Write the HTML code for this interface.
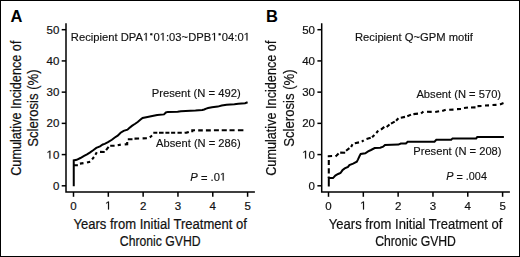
<!DOCTYPE html>
<html><head><meta charset="utf-8"><style>
html,body{margin:0;padding:0;background:#fff;width:520px;height:257px;overflow:hidden}
svg{display:block;filter:blur(0.3px)}
text{font-family:"Liberation Sans",sans-serif;fill:#111}
.pl{font-size:16.5px;font-weight:bold;fill:#000}
.tl{font-size:11.5px;stroke:#111;stroke-width:0.2px}
.tt{font-size:15.2px;stroke:#111;stroke-width:0.22px}
.il{font-size:11.2px;stroke:#111;stroke-width:0.15px}
.h{fill-opacity:0;stroke-opacity:0}
.ax{fill:none;stroke:#000;stroke-width:1.5}
.cs{fill:none;stroke:#000;stroke-width:2.0;stroke-linejoin:miter}
.cd{fill:none;stroke:#000;stroke-width:2.1;stroke-linejoin:miter}
</style></head><body>
<svg width="520" height="257" viewBox="0 0 520 257">
<rect x="0.5" y="0.5" width="519" height="256" fill="#fff" stroke="#000" stroke-width="1"/>
<text x="10.5" y="22.4" class="pl">A</text>
<text x="265.9" y="22.4" class="pl">B</text>
<path d="M66.00 23.3V192.0H254.90" class="ax"/>
<path d="M61.70 185.80H66.00" class="ax"/>
<text x="59.30" y="189.80" class="tl" text-anchor="end">0</text>
<path d="M61.70 154.58H66.00" class="ax"/>
<text x="59.30" y="158.58" class="tl" text-anchor="end"><tspan class="h">1</tspan>0</text>
<path d="M61.70 123.36H66.00" class="ax"/>
<text x="59.30" y="127.36" class="tl" text-anchor="end">20</text>
<path d="M61.70 92.14H66.00" class="ax"/>
<text x="59.30" y="96.14" class="tl" text-anchor="end">30</text>
<path d="M61.70 60.92H66.00" class="ax"/>
<text x="59.30" y="64.92" class="tl" text-anchor="end">40</text>
<path d="M61.70 29.70H66.00" class="ax"/>
<text x="59.30" y="33.70" class="tl" text-anchor="end">50</text>
<path d="M73.50 192.0V196.8" class="ax"/>
<text x="73.50" y="209.5" class="tl" text-anchor="middle">0</text>
<path d="M108.32 192.0V196.8" class="ax"/>
<text x="108.32" y="209.5" class="tl" text-anchor="middle"><tspan class="h">1</tspan></text>
<path d="M143.14 192.0V196.8" class="ax"/>
<text x="143.14" y="209.5" class="tl" text-anchor="middle">2</text>
<path d="M177.96 192.0V196.8" class="ax"/>
<text x="177.96" y="209.5" class="tl" text-anchor="middle">3</text>
<path d="M212.78 192.0V196.8" class="ax"/>
<text x="212.78" y="209.5" class="tl" text-anchor="middle">4</text>
<path d="M247.60 192.0V196.8" class="ax"/>
<text x="247.60" y="209.5" class="tl" text-anchor="middle">5</text>
<text x="160.25" y="228.6" class="tt" text-anchor="middle" textLength="173.5" lengthAdjust="spacingAndGlyphs">Years from Initial Treatment of</text>
<text x="160.25" y="245.8" class="tt" text-anchor="middle" textLength="80.8" lengthAdjust="spacingAndGlyphs">Chronic GVHD</text>
<text transform="translate(20.60 108.2) rotate(-90)" class="tt" text-anchor="middle" textLength="135.2" lengthAdjust="spacingAndGlyphs">Cumulative Incidence of</text>
<text transform="translate(38.40 108.1) rotate(-90)" class="tt" text-anchor="middle" textLength="77.4" lengthAdjust="spacingAndGlyphs">Sclerosis (%)</text>
<path d="M321.70 23.3V192.0H509.90" class="ax"/>
<path d="M317.40 185.80H321.70" class="ax"/>
<text x="315.00" y="189.80" class="tl" text-anchor="end">0</text>
<path d="M317.40 154.58H321.70" class="ax"/>
<text x="315.00" y="158.58" class="tl" text-anchor="end"><tspan class="h">1</tspan>0</text>
<path d="M317.40 123.36H321.70" class="ax"/>
<text x="315.00" y="127.36" class="tl" text-anchor="end">20</text>
<path d="M317.40 92.14H321.70" class="ax"/>
<text x="315.00" y="96.14" class="tl" text-anchor="end">30</text>
<path d="M317.40 60.92H321.70" class="ax"/>
<text x="315.00" y="64.92" class="tl" text-anchor="end">40</text>
<path d="M317.40 29.70H321.70" class="ax"/>
<text x="315.00" y="33.70" class="tl" text-anchor="end">50</text>
<path d="M328.50 192.0V196.8" class="ax"/>
<text x="328.50" y="209.5" class="tl" text-anchor="middle">0</text>
<path d="M363.32 192.0V196.8" class="ax"/>
<text x="363.32" y="209.5" class="tl" text-anchor="middle"><tspan class="h">1</tspan></text>
<path d="M398.14 192.0V196.8" class="ax"/>
<text x="398.14" y="209.5" class="tl" text-anchor="middle">2</text>
<path d="M432.96 192.0V196.8" class="ax"/>
<text x="432.96" y="209.5" class="tl" text-anchor="middle">3</text>
<path d="M467.78 192.0V196.8" class="ax"/>
<text x="467.78" y="209.5" class="tl" text-anchor="middle">4</text>
<path d="M502.60 192.0V196.8" class="ax"/>
<text x="502.60" y="209.5" class="tl" text-anchor="middle">5</text>
<text x="415.55" y="228.6" class="tt" text-anchor="middle" textLength="173.5" lengthAdjust="spacingAndGlyphs">Years from Initial Treatment of</text>
<text x="415.55" y="245.8" class="tt" text-anchor="middle" textLength="80.8" lengthAdjust="spacingAndGlyphs">Chronic GVHD</text>
<text transform="translate(275.90 108.2) rotate(-90)" class="tt" text-anchor="middle" textLength="135.2" lengthAdjust="spacingAndGlyphs">Cumulative Incidence of</text>
<text transform="translate(293.70 108.1) rotate(-90)" class="tt" text-anchor="middle" textLength="77.4" lengthAdjust="spacingAndGlyphs">Sclerosis (%)</text>
<polyline points="73.75,186.20 73.75,160.40 76.70,159.80 80.40,158.00 84.10,155.90 87.00,154.40 89.80,152.60 93.50,150.00 96.30,147.90 100.00,146.40 102.80,144.50 104.70,143.90 108.00,142.20 111.90,139.80 114.80,137.50 117.70,135.60 120.60,132.70 123.60,130.80 127.50,129.70 129.00,128.30 131.90,125.90 134.80,124.00 137.70,122.00 140.60,119.60 142.60,118.00 147.50,117.00 152.30,116.00 157.20,115.00 164.00,114.40 165.90,112.50 167.90,111.90 177.60,111.70 180.90,111.30 185.70,110.90 195.50,110.50 202.30,110.00 204.20,109.50 206.20,108.60 208.10,108.00 212.00,107.20 217.80,106.60 221.70,105.60 226.60,104.80 234.40,104.20 238.30,103.70 245.10,103.20 247.60,102.20" class="cs"/>
<path d="M73.75 165.20 L77.90 165.20M79.90 163.60 L83.50 163.10M87.00 162.60 L90.20 161.70M92.10 159.40 L94.00 157.00M95.40 154.70 L96.80 152.30M100.00 151.90 L104.70 152.00M106.10 150.20 L108.60 146.90M110.20 145.80 L114.60 145.70M117.70 145.20 L120.80 144.60M124.70 144.40 L127.20 144.20 L127.20 142.10M127.80 139.30 L132.50 139.30M134.50 138.60 L139.10 138.50M142.60 138.40 L146.90 138.30M149.80 137.30 L152.10 135.50M153.30 132.80 L157.30 132.80M159.00 132.70 L163.60 132.70M165.40 132.70 L169.40 132.70M171.10 132.70 L175.20 132.70M177.50 132.80 L181.80 132.80M184.60 132.80 L186.50 132.60 L188.80 131.90M192.30 132.30 L192.30 130.30 L195.00 130.30M198.20 130.40 L202.80 130.40M205.90 130.40 L210.80 130.40M213.90 130.30 L218.90 130.30M221.70 130.30 L226.80 130.30M229.50 130.30 L234.60 130.30M237.90 130.30 L243.40 130.30" class="cd"/>
<polyline points="328.80,186.50 328.80,178.10 333.00,178.10 335.30,175.60 338.10,174.00 340.50,173.00 342.40,170.30 344.70,168.40 348.00,166.90 349.40,165.10 353.10,163.60 356.80,161.70 357.90,159.60 359.70,155.80 360.70,153.90 365.30,153.30 368.10,151.40 371.00,150.00 374.70,148.10 380.30,147.70 383.10,146.70 385.00,144.90 398.50,144.60 400.80,143.50 405.90,143.50 407.70,141.70 434.50,141.70 436.30,139.80 451.20,139.80 452.60,138.40 476.20,138.40 477.30,136.90 503.90,136.90" class="cs"/>
<path d="M328.80 159.90 L328.80 165.10M328.80 168.30 L328.80 173.50M328.80 176.50 L328.80 178.00M328.80 157.20 L328.80 156.20 L332.10 156.00M335.50 156.30 L336.60 155.50 L338.60 153.50M340.20 152.60 L345.20 152.80M346.10 150.70 L349.40 148.10M351.10 147.00 L352.50 144.20M354.80 143.30 L359.00 142.40M361.80 141.70 L363.70 140.40M366.50 139.10 L370.70 137.80M372.10 137.20 L374.40 134.90M376.30 133.00 L378.20 130.70M381.00 129.60 L384.30 126.90M386.70 127.00 L389.50 124.40M391.00 123.70 L394.70 121.60M396.10 120.80 L398.40 118.30M400.80 117.70 L405.00 116.90M407.30 116.30 L411.00 114.60M413.40 114.10 L418.00 113.60M421.10 113.60 L423.40 111.40M427.00 111.80 L431.70 111.90M435.20 112.00 L439.10 111.30M442.20 110.90 L445.70 109.70M449.20 109.70 L453.50 109.60M457.00 109.10 L461.00 109.00M464.00 108.00 L468.00 107.50M471.00 107.50 L475.50 107.40M477.50 106.10 L481.50 106.00M485.00 105.50 L489.00 105.40M492.50 105.00 L496.50 104.90M500.00 104.40 L503.50 103.10" class="cd"/>
<text x="70.8" y="40.6" class="il" textLength="179.1" lengthAdjust="spacingAndGlyphs">Recipient DPA<tspan class="h">1</tspan><tspan class="h">*</tspan>0<tspan class="h">1</tspan>:03~DPB<tspan class="h">1</tspan><tspan class="h">*</tspan>04:0<tspan class="h">1</tspan></text>
<text x="151.7" y="96.5" class="il" textLength="89.0" lengthAdjust="spacingAndGlyphs">Present (N = 492)</text>
<text x="156.1" y="147.1" class="il" textLength="84.6" lengthAdjust="spacingAndGlyphs">Absent (N = 286)</text>
<text x="190.3" y="180.6" class="il"><tspan font-style="italic">P</tspan> <tspan dy="1">=</tspan><tspan dy="-1"> .0<tspan class="h">1</tspan></tspan></text>
<text x="355.0" y="40.6" class="il" textLength="117.9" lengthAdjust="spacingAndGlyphs">Recipient Q~GPM motif</text>
<text x="416.4" y="97.7" class="il" textLength="84.7" lengthAdjust="spacingAndGlyphs">Absent (N = 570)</text>
<text x="413.3" y="155.4" class="il" textLength="88.2" lengthAdjust="spacingAndGlyphs">Present (N = 208)</text>
<text x="446.3" y="180.4" class="il" textLength="40.6" lengthAdjust="spacingAndGlyphs"><tspan font-style="italic">P</tspan> <tspan dy="1">=</tspan><tspan dy="-1"> .004</tspan></text>
<path d="M151.32 33.25L151.32 35.41M150.15 33.79L152.49 34.87M150.15 34.87L152.49 33.79" fill="none" stroke="#111" stroke-width="1.0"/><path d="M219.63 33.25L219.63 35.41M218.47 33.79L220.80 34.87M218.47 34.87L220.80 33.79" fill="none" stroke="#111" stroke-width="1.0"/><path d="M49.38 158.58 L49.38 151.63 L47.60 152.91 L47.60 151.95 L49.47 150.67 L50.40 150.67 L50.40 158.58ZM108.01 209.50 L108.01 202.55 L106.22 203.83 L106.22 202.87 L108.10 201.59 L109.03 201.59 L109.03 209.50ZM305.08 158.58 L305.08 151.63 L303.30 152.91 L303.30 151.95 L305.17 150.67 L306.10 150.67 L306.10 158.58ZM363.01 209.50 L363.01 202.55 L361.22 203.83 L361.22 202.87 L363.10 201.59 L364.03 201.59 L364.03 209.50ZM145.71 40.60 L145.71 33.84 L143.97 35.08 L143.97 34.15 L145.80 32.89 L146.71 32.89 L146.71 40.60ZM162.58 40.60 L162.58 33.84 L160.84 35.08 L160.84 34.15 L162.66 32.89 L163.57 32.89 L163.57 40.60ZM214.03 40.60 L214.03 33.84 L212.28 35.08 L212.28 34.15 L214.11 32.89 L215.02 32.89 L215.02 40.60ZM246.48 40.60 L246.48 33.84 L244.73 35.08 L244.73 34.15 L246.56 32.89 L247.47 32.89 L247.47 40.60ZM222.70 180.60 L222.70 173.84 L220.96 175.08 L220.96 174.15 L222.78 172.89 L223.69 172.89 L223.69 180.60Z" fill="#111" stroke="#111" stroke-width="0.18"/>
</svg>
</body></html>
